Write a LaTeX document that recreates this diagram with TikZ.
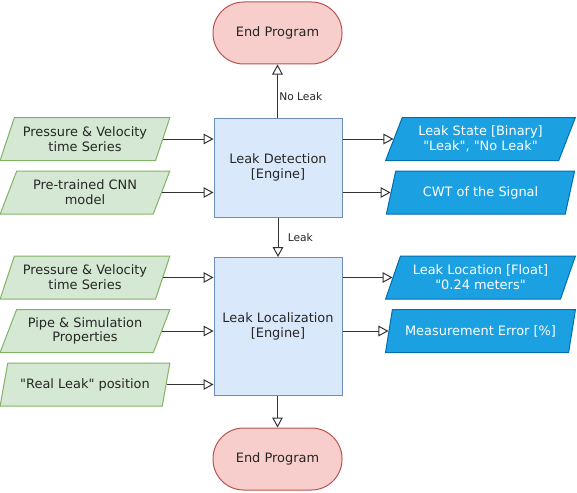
\documentclass[tikz,border=0pt]{standalone}
\usepackage{fontspec}
\setmainfont{DejaVu Sans}[Ligatures=TeXOff]
\usetikzlibrary{shapes.geometric,arrows.meta}
\definecolor{engfill}{HTML}{DAE8FC}
\definecolor{engdraw}{HTML}{6C8EBF}
\definecolor{infill}{HTML}{D5E8D4}
\definecolor{indraw}{HTML}{82B366}
\definecolor{endfill}{HTML}{F8CECC}
\definecolor{enddraw}{HTML}{B85450}
\definecolor{outfill}{HTML}{1BA1E2}
\definecolor{outdraw}{HTML}{006EAF}
\definecolor{linec}{HTML}{333333}
\begin{document}
\begin{tikzpicture}[x=0.75pt,y=-0.75pt,
  every node/.style={font=\fontsize{9.7}{11}\selectfont, align=center, inner sep=0pt, text=black!85},
  engine/.style={draw=engdraw, fill=engfill, line width=0.75pt, minimum width=96pt},
  endprog/.style={draw=enddraw, fill=endfill, line width=0.75pt, minimum width=96.75pt, minimum height=46.5pt, rounded corners=23pt},
  inbox/.style={trapezium, trapezium stretches=true, trapezium left angle=63, trapezium right angle=117,
    draw=indraw, fill=infill, line width=0.75pt, minimum width=127.5pt, minimum height=32.25pt},
  outbox/.style={trapezium, trapezium stretches=true, trapezium left angle=63, trapezium right angle=117,
    draw=outdraw, fill=outfill, text=white, line width=0.75pt, minimum width=142.5pt, minimum height=32.25pt},
  conn/.style={draw=linec, line width=0.75pt, -{Triangle[open, length=7.5pt, width=8pt, fill=white]}},
  lbl/.style={font=\fontsize{8}{9}\selectfont, anchor=west}
]
\useasboundingbox (0,0) rectangle (577,492);

\node[endprog] (endtop) at (277.5,33) {End Program};
\node[engine, minimum height=74.25pt] (det) at (278,167.5) {Leak Detection\\{[Engine]}};
\node[engine, minimum height=103.5pt] (loc) at (278,326.5) {Leak Localization\\{[Engine]}};
\node[endprog] (endbot) at (277.5,459) {End Program};

\node[inbox] (in1) at (85,139) {Pressure \& Velocity\\time Series};
\node[inbox] (in2) at (85,192.5) {Pre-trained CNN\\model};
\node[inbox] (in3) at (85,277.5) {Pressure \& Velocity\\time Series};
\node[inbox] (in4) at (85,331) {Pipe \& Simulation\\Properties};
\node[inbox] (in5) at (85,384.5) {"Real Leak" position};

\node[outbox] (out1) at (480.5,139) {Leak State [Binary]\\"Leak", "No Leak"};
\node[outbox] (out2) at (480.5,192.5) {CWT of the Signal};
\node[outbox] (out3) at (480.5,277.5) {Leak Location [Float]\\"0.24 meters"};
\node[outbox] (out4) at (480.5,331) {Measurement Error [\%]};

\foreach \i in {1,2} \draw[conn] (in\i.east) -- (in\i.east -| det.west);
\foreach \i in {3,4,5} \draw[conn] (in\i.east) -- (in\i.east -| loc.west);
\foreach \i in {1,2} \draw[conn] (out\i.west -| det.east) -- (out\i.west);
\foreach \i in {3,4} \draw[conn] (out\i.west -| loc.east) -- (out\i.west);

\draw[conn] (det.north -| endtop.south) -- (endtop.south) node[lbl, pos=0.4, xshift=1pt] {No Leak};
\draw[conn] (det.south -| loc.north) -- (loc.north) node[lbl, pos=0.5, xshift=7pt] {Leak};
\draw[conn] (loc.south -| endbot.north) -- (endbot.north);
\end{tikzpicture}
\end{document}
